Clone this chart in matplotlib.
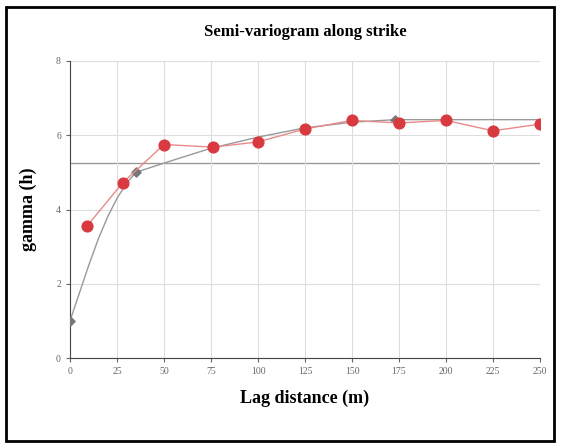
import matplotlib.pyplot as plt
from matplotlib.patches import Rectangle

# experimental semi-variogram points
lag = [9, 28, 50, 76, 100, 125, 150, 175, 200, 225, 250]
gamma = [3.55, 4.72, 5.75, 5.68, 5.82, 6.17, 6.4, 6.33, 6.4, 6.12, 6.3]

# fitted model curve
model_lag = [0, 5, 10, 15, 20, 25, 30, 35, 50, 75, 100, 125, 150, 173, 250]
model_gamma = [1.0, 1.75, 2.5, 3.2, 3.8, 4.3, 4.7, 5.0, 5.25, 5.65, 5.95, 6.2, 6.35, 6.42, 6.42]

# model control points (diamonds)
ctrl_lag = [0, 35, 173]
ctrl_gamma = [1.0, 5.0, 6.42]

sill = 5.25

plt.rcParams['font.family'] = ['Liberation Serif', 'DejaVu Serif']
fig = plt.figure(figsize=(5.63, 4.46), dpi=100)
ax = fig.add_axes([70/563, 88/446, 470/563, 297/446])

ax.plot(model_lag, model_gamma, color='#999999', lw=1, zorder=2)
ax.scatter(ctrl_lag, ctrl_gamma, marker='D', s=22, color='#777777', zorder=3)
ax.plot(lag, gamma, color='#e88a8a', lw=1, zorder=4)
ax.scatter(lag, gamma, s=60, color='#d93a40', zorder=5)
ax.axhline(sill, color='#999999', lw=1, zorder=1)

ax.set_xlim(0, 250)
ax.set_ylim(0, 8)
ax.set_xticks(range(0, 251, 25))
ax.set_yticks(range(0, 9, 2))
ax.tick_params(labelsize=7, colors='#666666', length=3)
ax.grid(color='#dddddd', lw=0.8)
for s in ['top', 'right']:
    ax.spines[s].set_visible(False)
ax.spines['left'].set_color('#444444')
ax.spines['bottom'].set_color('#444444')

ax.set_title('Semi-variogram along strike', fontsize=12, fontweight='bold', pad=18)
ax.set_xlabel('Lag distance (m)', fontsize=13, fontweight='bold', labelpad=10)
ax.set_ylabel('gamma (h)', fontsize=13, fontweight='bold', labelpad=14)

fig.patches.append(Rectangle((6/563, 5/446), 548/563, 434/446, transform=fig.transFigure,
                             fill=False, edgecolor='black', lw=2))
fig.savefig('out.png', dpi=100)
